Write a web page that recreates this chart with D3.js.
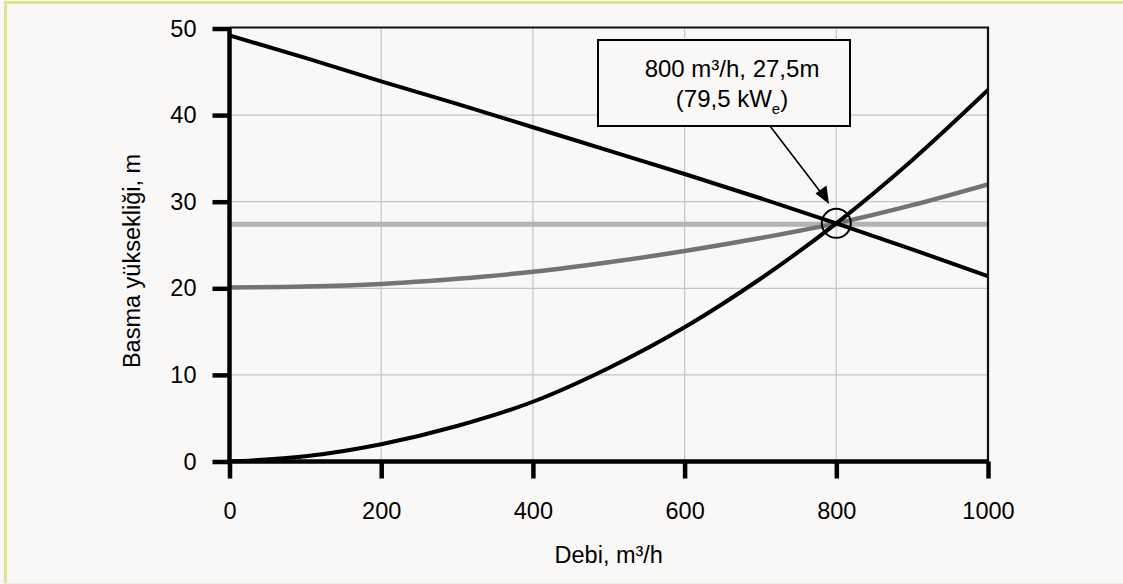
<!DOCTYPE html>
<html>
<head>
<meta charset="utf-8">
<script src="https://cdn.jsdelivr.net/npm/d3@7"></script>
<style>
  html, body { margin: 0; padding: 0; background: #f9f8f6; }
  svg { display: block; }
  text { font-family: "Liberation Sans", Arial, sans-serif; fill: #000; }
</style>
</head>
<body>
<svg id="chart" width="1123" height="584"></svg>
<script>
// Flow rate (m³/h) sample points
const flow = [0, 100, 200, 300, 400, 500, 600, 700, 800, 900, 1000];
// Pump head curve (m)
const pumpHead = [49.2, 46.6, 43.9, 41.3, 38.6, 35.9, 33.2, 30.4, 27.5, 24.5, 21.4];
// System resistance curve (m)
const systemHead = [0, 0.6, 2.0, 4.1, 6.9, 10.8, 15.5, 21.1, 27.5, 34.8, 42.9];
// Second system curve with static head (m)
const staticSystemHead = [20.1, 20.2, 20.5, 21.1, 21.9, 23.0, 24.3, 25.8, 27.5, 29.6, 32.0];
// Constant head reference (m)
const constantHead = 27.4;
// Operating point
const opFlow = 800, opHead = 27.5;
const xTicks = [0, 200, 400, 600, 800, 1000];
const yTicks = [0, 10, 20, 30, 40, 50];

const svg = d3.select("#chart");
const W = 1123, H = 584;

// page frame
svg.append("rect").attr("width", W).attr("height", H).attr("fill", "#f9f8f6");
svg.append("line").attr("x1", 5.5).attr("x2", 5.5).attr("y1", 1).attr("y2", H).attr("stroke", "#dde38f").attr("stroke-width", 3);
svg.append("line").attr("x1", 4).attr("x2", W).attr("y1", 2.5).attr("y2", 2.5).attr("stroke", "#dde38f").attr("stroke-width", 3);
svg.append("line").attr("x1", 4).attr("x2", W).attr("y1", 583.5).attr("y2", 583.5).attr("stroke", "#efefe6").attr("stroke-width", 1);

const x = d3.scaleLinear().domain([0, 1000]).range([229.5, 988]);
const y = d3.scaleLinear().domain([0, 50]).range([461.5, 28.5]);

// clip to plot area
svg.append("defs").append("clipPath").attr("id", "plotClip")
  .append("rect").attr("x", x(0)).attr("y", y(50)).attr("width", x(1000) - x(0)).attr("height", y(0) - y(50));

// grid
const grid = svg.append("g");
grid.selectAll(".vg").data(xTicks.filter(d => d > 0 && d < 1000)).join("line")
  .attr("x1", d => x(d)).attr("x2", d => x(d)).attr("y1", y(0)).attr("y2", y(50))
  .attr("stroke", "#c4c4c4").attr("stroke-width", 1.2);
grid.selectAll(".hg").data(yTicks.filter(d => d > 0 && d < 50)).join("line")
  .attr("x1", x(0)).attr("x2", x(1000)).attr("y1", d => y(d)).attr("y2", d => y(d))
  .attr("stroke", "#c4c4c4").attr("stroke-width", 1.2);

const plot = svg.append("g").attr("clip-path", "url(#plotClip)");
const line = vals => d3.line().x((d, i) => x(flow[i])).y(d => y(d)).curve(d3.curveMonotoneX)(vals);

plot.append("line").attr("x1", x(0)).attr("x2", x(1000))
  .attr("y1", y(constantHead)).attr("y2", y(constantHead))
  .attr("stroke", "#b3b3b3").attr("stroke-width", 5);
plot.append("path").attr("d", line(staticSystemHead)).attr("fill", "none")
  .attr("stroke", "#737373").attr("stroke-width", 4.5);
plot.append("path").attr("d", line(systemHead)).attr("fill", "none")
  .attr("stroke", "#000").attr("stroke-width", 4);
plot.append("path").attr("d", line(pumpHead)).attr("fill", "none")
  .attr("stroke", "#000").attr("stroke-width", 4);

// operating point marker
svg.append("circle").attr("cx", x(opFlow)).attr("cy", y(opHead)).attr("r", 14.5)
  .attr("fill", "none").attr("stroke", "#000").attr("stroke-width", 2);

// plot frame (top and right thin)
svg.append("line").attr("x1", x(0)).attr("x2", x(1000) + 1).attr("y1", 27.5).attr("y2", 27.5).attr("stroke", "#111").attr("stroke-width", 2.2);
svg.append("line").attr("x1", x(1000)).attr("x2", x(1000)).attr("y1", 27).attr("y2", y(0)).attr("stroke", "#111").attr("stroke-width", 2.2);

// axes
const yAxis = svg.append("g").attr("transform", `translate(${x(0)},0)`)
  .call(d3.axisLeft(y).tickValues(yTicks).tickSize(17).tickPadding(16).tickFormat(d3.format("d")));
const xAxis = svg.append("g").attr("transform", `translate(0,${y(0)})`)
  .call(d3.axisBottom(x).tickValues(xTicks).tickSize(17).tickPadding(24).tickFormat(d3.format("d")));
[yAxis, xAxis].forEach(a => {
  a.select(".domain").attr("stroke", "#000").attr("stroke-width", 4.5);
  a.selectAll(".tick line").attr("stroke", "#000").attr("stroke-width", 4.5);
  a.selectAll(".tick text").attr("font-size", "23.5px").attr("font-family", "Liberation Sans, Arial, sans-serif").attr("fill", "#000");
});
yAxis.select(".domain").attr("d", `M0,${y(0) + 2}V${27}`);
xAxis.select(".domain").attr("d", `M${x(0) - 2},0H${x(1000) + 1}`);

// axis titles
svg.append("text").attr("x", (x(0) + x(1000)) / 2).attr("y", 563)
  .attr("text-anchor", "middle").attr("font-size", "23.5px").text("Debi, m³/h");
svg.append("text").attr("transform", `translate(140,${261}) rotate(-90)`)
  .attr("text-anchor", "middle").attr("font-size", "23.5px").text("Basma yüksekliği, m");

// callout
const box = { x0: 598, y0: 40, x1: 850, y1: 126 };
svg.append("line").attr("x1", 770).attr("y1", box.y1).attr("x2", 822).attr("y2", 194)
  .attr("stroke", "#000").attr("stroke-width", 1.6);
svg.append("path").attr("d", "M829,204 L815.5,193.5 L826.5,185.5 Z").attr("fill", "#000");
svg.append("rect").attr("x", box.x0).attr("y", box.y0).attr("width", box.x1 - box.x0).attr("height", box.y1 - box.y0)
  .attr("fill", "#f9f8f6").attr("stroke", "#000").attr("stroke-width", 2);
svg.append("text").attr("x", 732).attr("y", 77).attr("text-anchor", "middle")
  .attr("font-size", "24px").text(`${opFlow} m³/h, 27,5m`);
const t2 = svg.append("text").attr("x", 732).attr("y", 107).attr("text-anchor", "middle").attr("font-size", "24px");
t2.append("tspan").text("(79,5 kW");
t2.append("tspan").attr("font-size", "15px").attr("dy", 7).text("e");
t2.append("tspan").attr("dy", -7).text(")");
</script>
</body>
</html>
